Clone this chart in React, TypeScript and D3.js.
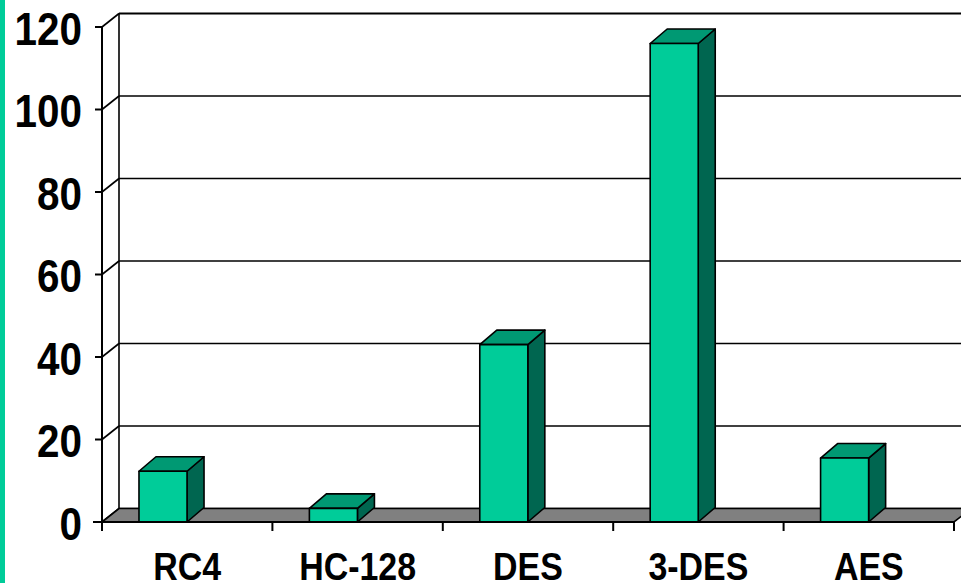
import React from 'react';
import * as d3 from 'd3';

const categories = ['RC4', 'HC-128', 'DES', '3-DES', 'AES'];
const values = [12.3, 3.3, 43, 116, 15.5];
const yTicks = [0, 20, 40, 60, 80, 100, 120];

const W = 961;
const H = 583;
const plot = { left: 102, right: 954, top: 27, bottom: 522 };
// 3d depth offsets
const wallDx = 17, wallDy = 13.5;
const barDx = 17, barDy = 14.5;

const colors = {
    front: '#00CC99',
    top: '#009973',
    side: '#006650',
    floor: '#808080',
    stripe: '#00CC99'
};

const font = '"Liberation Sans", Arial, sans-serif';

export default function App() {
    const x = d3.scaleBand<string>().domain(categories).range([plot.left, plot.right]).padding(0);
    const y = d3.scaleLinear().domain([0, 120]).range([plot.bottom, plot.top]);
    const bw = x.bandwidth();
    const barOffset = bw * 0.217;
    const barWidth = bw * 0.282;

    const boundaries = categories.map(c => x(c) as number).concat([plot.right]);

    return (
        <svg width={W} height={H} style={{ position: 'absolute', left: 0, top: 0, background: '#fff' }}>
            <rect x={0} y={0} width={5} height={H} fill={colors.stripe} />

            {/* back wall gridlines */}
            {yTicks.map(t => (
                <line key={'g' + t}
                      x1={plot.left + wallDx} x2={W}
                      y1={y(t) - wallDy} y2={y(t) - wallDy}
                      stroke="#000" strokeWidth={t === 120 ? 2.2 : 1.6} />
            ))}
            {/* left wall */}
            <line x1={plot.left + wallDx} x2={plot.left + wallDx} y1={y(120) - wallDy} y2={y(0) - wallDy} stroke="#000" strokeWidth={1.6} />
            {yTicks.map(t => (
                <line key={'d' + t}
                      x1={plot.left} y1={y(t)}
                      x2={plot.left + wallDx} y2={y(t) - wallDy}
                      stroke="#000" strokeWidth={1.6} />
            ))}

            {/* floor */}
            <polygon
                points={[
                    [plot.left, y(0)], [plot.right, y(0)],
                    [plot.right + wallDx, y(0) - wallDy], [plot.left + wallDx, y(0) - wallDy]
                ].map(p => p.join(',')).join(' ')}
                fill={colors.floor} stroke="#000" strokeWidth={1.6} />

            {/* bars */}
            {categories.map((c, i) => {
                const x0 = (x(c) as number) + barOffset;
                const x1 = x0 + barWidth;
                const yt = y(values[i]);
                const yb = y(0);
                const pts = (arr: number[][]) => arr.map(p => p.join(',')).join(' ');
                return (
                    <g key={c} stroke="#000" strokeWidth={1.6} strokeLinejoin="round">
                        <polygon fill={colors.side}
                                 points={pts([[x1, yb], [x1 + barDx, yb - barDy], [x1 + barDx, yt - barDy], [x1, yt]])} />
                        <polygon fill={colors.top}
                                 points={pts([[x0, yt], [x1, yt], [x1 + barDx, yt - barDy], [x0 + barDx, yt - barDy]])} />
                        <rect fill={colors.front} x={x0} y={yt} width={barWidth} height={yb - yt} />
                    </g>
                );
            })}

            {/* front axes */}
            <line x1={plot.left} x2={plot.left} y1={y(120)} y2={y(0) + 9} stroke="#000" strokeWidth={2} />
            <line x1={plot.left - 9} x2={plot.right} y1={y(0)} y2={y(0)} stroke="#000" strokeWidth={2} />
            {yTicks.map(t => (
                <line key={'t' + t} x1={plot.left - 7} x2={plot.left} y1={y(t)} y2={y(t)} stroke="#000" strokeWidth={2} />
            ))}
            {boundaries.map((b, i) => (
                <line key={'b' + i} x1={b} x2={b} y1={y(0)} y2={y(0) + 9} stroke="#000" strokeWidth={2} />
            ))}

            {/* labels */}
            {yTicks.map(t => (
                <text key={'l' + t}
                      transform={`translate(82,${y(t) + 17.5}) scale(0.86,1)`}
                      textAnchor="end" fontFamily={font} fontWeight="bold" fontSize={47} fill="#000">
                    {t}
                </text>
            ))}
            {categories.map(c => (
                <text key={'x' + c}
                      transform={`translate(${(x(c) as number) + bw / 2},580) scale(0.87,1)`}
                      textAnchor="middle" fontFamily={font} fontWeight="bold" fontSize={39} fill="#000">
                    {c}
                </text>
            ))}
        </svg>
    );
}
